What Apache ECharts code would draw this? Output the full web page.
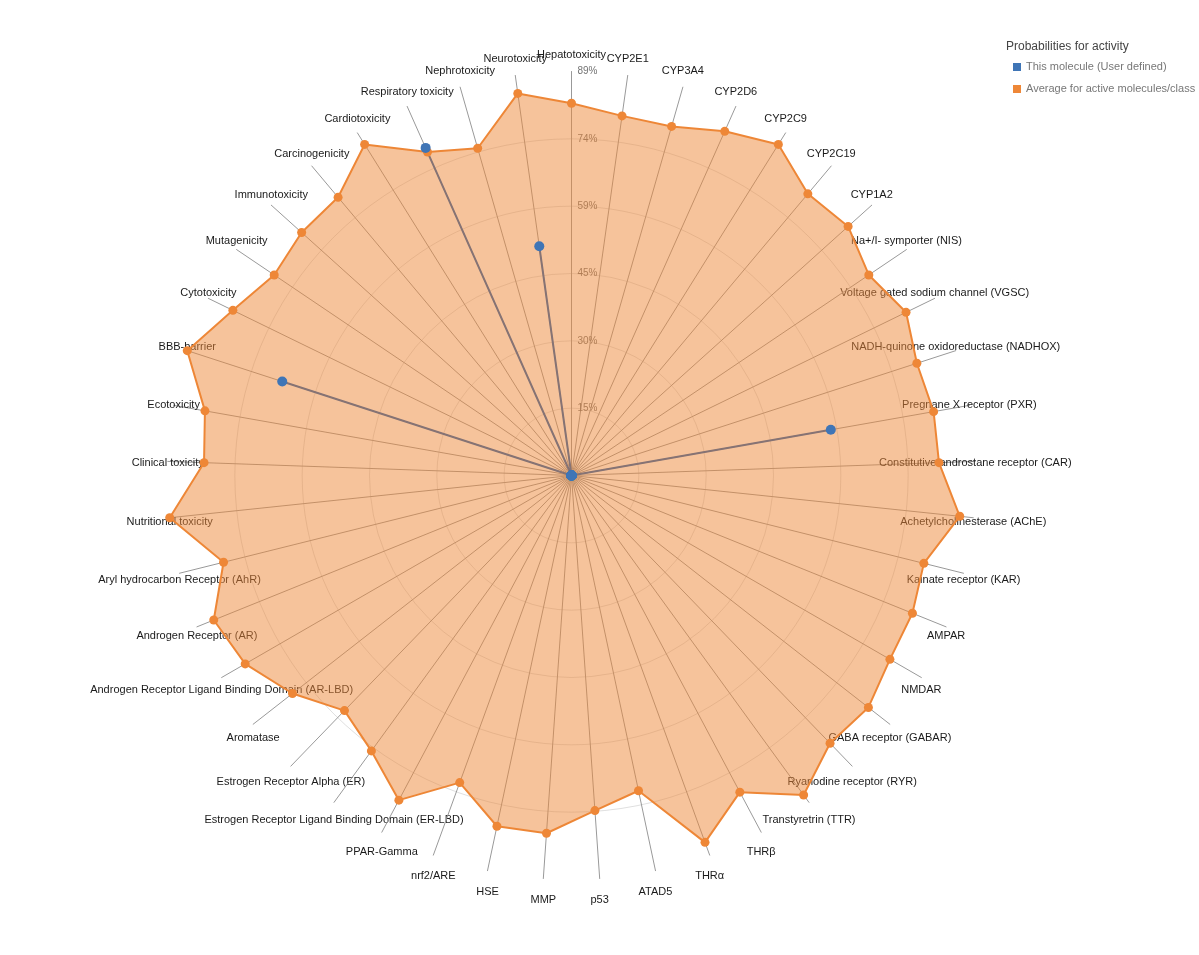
<!DOCTYPE html>
<html><head><meta charset="utf-8">
<script src="https://cdn.jsdelivr.net/npm/echarts@6/dist/echarts.min.js"></script>
<style>html,body{margin:0;padding:0;background:#fff}#chart{width:1199px;height:955px}</style>
</head><body><div id="chart"></div>
<script>
// Indicators in clockwise order starting at the top
const indicatorNames = [
  'Hepatotoxicity','CYP2E1','CYP3A4','CYP2D6','CYP2C9','CYP2C19','CYP1A2',
  'Na+/I- symporter (NIS)','Voltage gated sodium channel (VGSC)',
  'NADH-quinone oxidoreductase (NADHOX)','Pregnane X receptor (PXR)',
  'Constitutive androstane receptor (CAR)','Achetylcholinesterase (AChE)',
  'Kainate receptor (KAR)','AMPAR','NMDAR','GABA receptor (GABAR)',
  'Ryanodine receptor (RYR)','Transtyretrin (TTR)','THRβ','THRα','ATAD5',
  'p53','MMP','HSE','nrf2/ARE','PPAR-Gamma',
  'Estrogen Receptor Ligand Binding Domain (ER-LBD)','Estrogen Receptor Alpha (ER)',
  'Aromatase','Androgen Receptor Ligand Binding Domain (AR-LBD)','Androgen Receptor (AR)',
  'Aryl hydrocarbon Receptor (AhR)','Nutritional toxicity','Clinical toxicity',
  'Ecotoxicity','BBB-barrier','Cytotoxicity','Mutagenicity','Immunotoxicity',
  'Carcinogenicity','Cardiotoxicity','Respiratory toxicity','Nephrotoxicity','Neurotoxicity'
];
// Average for active molecules/class (%)
const averageActive = [
  82,80,80,83,86,81,82,
  79,82,
  80,81,
  81,86,
  80,81,81,83,
  82,87,79,86,71,
  74,79,79,72,81,
  75,72,
  78,83,85,
  79,89,81,
  82,89,83,79,80,
  80,86,78,75,85
];
// This molecule (User defined) (%)
const thisMolecule = [
  0,0,0,0,0,0,0,
  0,0,
  0,58,
  0,0,
  0,0,0,0,
  0,0,0,0,0,
  0,0,0,0,0,
  0,0,
  0,0,0,
  0,0,0,
  0,67,0,0,0,
  0,0,79,0,51
];
const axisMax = 89;
const splitCount = 6;
const legendTitle = 'Probabilities for activity';
const seriesNames = ['This molecule (User defined)', 'Average for active molecules/class'];

const FONT = '"Liberation Sans", Arial, Helvetica, sans-serif';
const n = indicatorNames.length;
// ECharts lays radar axes counter-clockwise; reorder so the picture runs clockwise
const order = [0].concat(Array.from({length: n - 1}, (_, k) => n - 1 - k));
const reorder = arr => order.map(i => arr[i]);

const idxOf = {};
indicatorNames.forEach((nm, i) => { idxOf[nm] = i; });
const rich = {};
indicatorNames.forEach((nm, i) => {
  const th = i * 2 * Math.PI / n;
  const dy = 2.5 - 19 * Math.cos(th);
  rich['p' + i] = {
    fontSize: 11, fontFamily: FONT, color: '#1a1a1a',
    padding: dy > 0 ? [2 * dy, 0, 0, 0] : [0, 0, -2 * dy, 0]
  };
});

const chart = echarts.init(document.getElementById('chart'), null, {renderer: 'canvas'});
const gridColors = ['rgba(0,0,0,0)'];
for (let k = 1; k < splitCount; k++) gridColors.push('rgba(110,110,110,0.22)');
gridColors.push('rgba(0,0,0,0)');

chart.setOption({
  animation: false,
  textStyle: {fontFamily: FONT},
  title: {
    text: legendTitle, left: 1006, top: 41, padding: 0,
    textStyle: {fontSize: 12, fontWeight: 'normal', color: '#444', fontFamily: FONT}
  },
  legend: {
    data: seriesNames, orient: 'vertical', left: 1013, top: 60, padding: 0,
    icon: 'rect', itemWidth: 8, itemHeight: 8, itemGap: 8, itemStyle: {borderWidth: 0},
    textStyle: {color: '#777', fontSize: 11, lineHeight: 14, fontFamily: FONT}
  },
  radar: {
    center: [571.5, 475.5],
    radius: 404,
    startAngle: 90,
    shape: 'circle',
    splitNumber: splitCount,
    axisNameGap: 0,
    indicator: reorder(indicatorNames).map((name, k) => {
      const o = {name: name, min: 0, max: axisMax};
      if (k === 0) o.axisLabel = {show: true};
      return o;
    }),
    axisName: {
      align: 'center', verticalAlign: 'middle',
      color: '#1a1a1a', fontSize: 11, fontFamily: FONT,
      formatter: (value) => '{p' + idxOf[value] + '|' + value + '}',
      rich: rich
    },
    axisLine: {lineStyle: {color: '#999999', width: 1}},
    splitLine: {lineStyle: {color: gridColors, width: 1}},
    splitArea: {show: false},
    axisTick: {show: false},
    axisLabel: {
      show: false, margin: -6, align: 'left', verticalAlign: 'middle',
      color: '#737373', fontSize: 10, fontFamily: FONT,
      formatter: v => (v === 0 ? '' : Math.round(v) + '%')
    }
  },
  series: [
    {
      type: 'radar', z: 2, symbol: 'none', silent: true,
      data: [{
        name: seriesNames[0], value: reorder(thisMolecule),
        itemStyle: {color: '#3f75b6'},
        lineStyle: {color: '#1f5fb0', width: 2}
      }]
    },
    {
      type: 'radar', z: 3, symbol: 'circle', symbolSize: 9, silent: true,
      data: [{
        name: seriesNames[1], value: reorder(averageActive),
        itemStyle: {color: '#ee8737'},
        lineStyle: {color: '#ee8737', width: 2},
        areaStyle: {color: '#ee8737', opacity: 0.5}
      }]
    },
    {
      type: 'radar', z: 4, symbol: 'circle', symbolSize: 10, silent: true,
      data: [{
        name: seriesNames[0], value: reorder(thisMolecule),
        itemStyle: {color: '#3f75b6'},
        lineStyle: {width: 0, opacity: 0}
      }]
    }
  ]
});
</script>
</body></html>
